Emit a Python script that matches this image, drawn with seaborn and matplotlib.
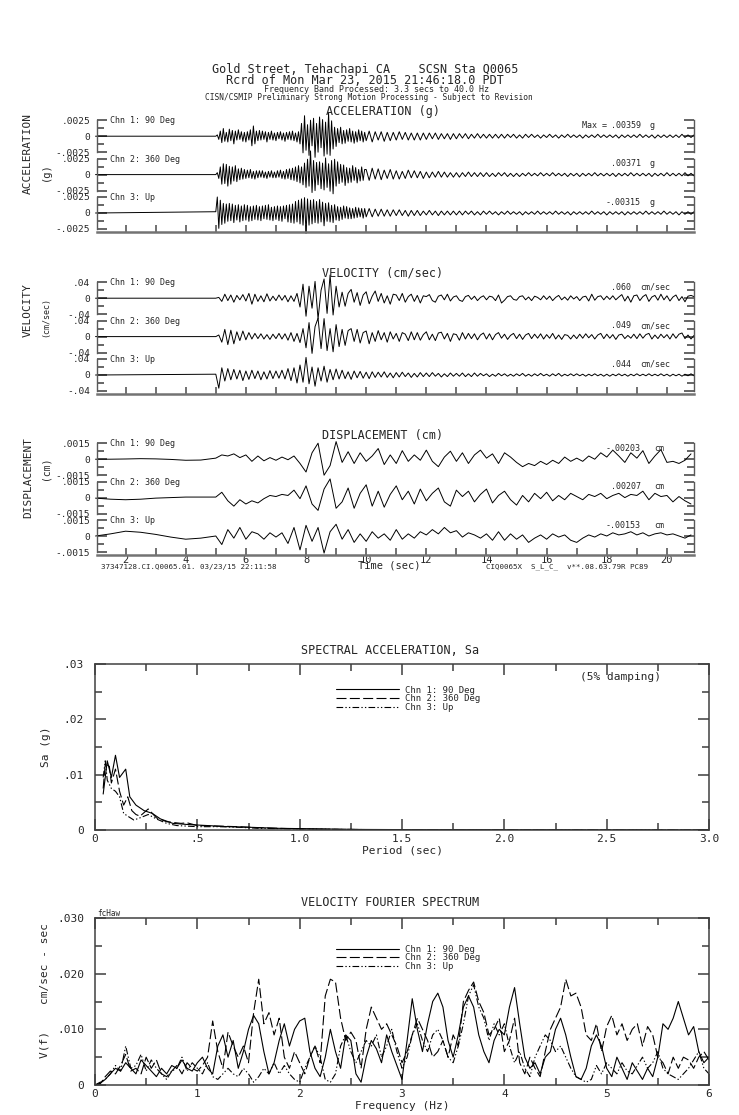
import numpy as np
import pandas as pd
import matplotlib
matplotlib.use("Agg")
import matplotlib.pyplot as plt
import seaborn as sns
from matplotlib.ticker import FixedLocator, MultipleLocator

W, H = 739, 1115

channels = ["Chn 1: 90 Deg", "Chn 2: 360 Deg", "Chn 3: Up"]

# ---------------- time histories ----------------
# acceleration in 1e-4 g: strong part every 0.05 s from 5.0 s, coda every 0.1 s from 10.0 s
acc_strong_ch1 = [
    0, 2, -5, 8, -10, 12, -8, 6, -9, 11,
    -7, 9, -12, 8, -6, 10, -5, 7, -8, 6,
    -9, 7, -6, 10, -15, 16, -12, 8, -7, 9,
    -6, 8, -5, 7, -9, 6, -5, 8, -6, 5,
    -7, 6, -4, 7, -6, 5, -8, 6, -5, 7,
    -6, 8, -7, 5, -9, 7, -12, 20, -26, 32,
    -22, 18, -30, 25, -15, 28, -33, 20, -25, 30,
    -18, 26, -31, 22, -28, 36, -30, 24, -20, 14,
    -16, 12, -10, 14, -12, 9, -11, 10, -8, 12,
    -9, 8, -11, 7, -9, 10, -7, 8, -9, 6,
]
acc_strong_ch2 = [
    0, 3, -6, 12, -15, 17, -14, 16, -18, 13,
    -15, 12, -10, 14, -11, 9, -8, 10, -7, 8,
    -6, 7, -5, 8, -6, 5, -7, 6, -5, 6,
    -4, 6, -5, 4, -6, 5, -4, 6, -5, 4,
    -5, 6, -4, 7, -6, 5, -7, 8, -6, 9,
    -8, 10, -9, 12, -11, 14, -13, 12, -16, 18,
    -20, 24, -18, 37, -28, 22, -25, 19, -16, 20,
    -22, 18, -24, 26, -20, 17, -26, 22, -30, 24,
    -18, 20, -14, 16, -12, 15, -17, 11, -13, 10,
    -12, 14, -9, 11, -13, 8, -10, 12, -9, 8,
]
acc_strong_ch3 = [
    2, 25, -24, 20, -18, 15, -16, 14, -13, 15,
    -12, 14, -15, 12, -11, 13, -14, 11, -12, 13,
    -11, 12, -13, 10, -12, 11, -10, 12, -11, 10,
    -12, 11, -9, 12, -10, 13, -11, 9, -12, 10,
    -10, 11, -12, 10, -13, 11, -9, 12, -14, 13,
    -15, 14, -16, 18, -14, 20, -17, 22, -19, 24,
    -32, 22, -19, 20, -17, 21, -15, 18, -16, 21,
    -14, 17, -20, 15, -13, 16, -14, 12, -15, 13,
    -11, 10, -12, 9, -10, 11, -8, 10, -9, 8,
    -9, 7, -8, 9, -7, 8, -6, 7, -8, 7,
]
acc_coda_ch1 = [
    -7, 8, -9, 7, -6, 7, -8, 6, -7, 6,
    -6, 7, -5, 6, -6, 5, -6, 5, -6, 5,
    -5, 5, -4, 5, -5, 4, -4, 4, -5, 4,
    -4, 4, -3, 4, -4, 3, -3, 4, -3, 3,
    -3, 3, -3, 3, -3, 3, -3, 3, -2, 3,
    -3, 2, -3, 3, -2, 3, -2, 2, -3, 2,
    -2, 3, -2, 2, -3, 2, -2, 3, -2, 2,
    -2, 2, -3, 2, -2, 2, -2, 3, -2, 2,
    -2, 2, -2, 2, -3, 2, -2, 2, -2, 2,
    -2, 3, -2, 2, -2, 2, -3, 2, -2, 2,
    -2, 2, -2, 2, -2, 3, -2, 2, -2, 2,
]
acc_coda_ch2 = [
    8, -9, 10, -7, 9, -8, 7, -6, 8, -7,
    6, -7, 5, -6, 7, -5, 6, -5, 5, -6,
    4, -5, 4, -4, 5, -4, 4, -4, 3, -4,
    3, -4, 3, -3, 4, -3, 3, -3, 3, -3,
    3, -3, 2, -3, 3, -2, 3, -3, 2, -3,
    2, -3, 2, -2, 3, -2, 2, -2, 3, -2,
    2, -2, 3, -2, 2, -2, 2, -3, 2, -2,
    2, -3, 2, -2, 2, -2, 3, -2, 2, -2,
    2, -2, 2, -3, 2, -2, 2, -2, 3, -2,
    2, -2, 2, -2, 2, -3, 2, -2, 2, -2,
    3, -2, 2, -2, 2, -2, 3, -2, 2, -2,
]
acc_coda_ch3 = [
    -6, 7, -6, 6, -5, 6, -5, 5, -5, 5,
    -4, 5, -4, 4, -5, 4, -4, 4, -4, 3,
    -3, 4, -3, 3, -4, 3, -3, 3, -3, 3,
    -3, 3, -3, 3, -2, 3, -3, 2, -3, 3,
    -2, 3, -2, 2, -3, 2, -2, 3, -2, 2,
    -2, 2, -3, 2, -2, 2, -2, 3, -2, 2,
    -2, 2, -2, 3, -2, 2, -2, 2, -3, 2,
    -2, 2, -2, 2, -2, 3, -2, 2, -2, 2,
    -3, 2, -2, 2, -2, 2, -3, 2, -2, 2,
    -2, 2, -2, 3, -2, 2, -2, 2, -2, 3,
    -2, 2, -2, 2, -3, 2, -2, 2, -2, 2,
]

# velocity in 1e-3 cm/sec, every 0.1 s from 5.0 s
vel_ch1 = [
    0, 2, -8, 10, -6, 8, -10, 7, -4, 9,
    -7, 12, -15, 10, -8, 6, -9, 11, -7, 5,
    -6, 8, -5, 7, -9, 6, -8, 12, -22, 35,
    -45, 30, -25, 42, -52, 20, 48, -38, 58, -42,
    30, -22, 15, -20, 12, 22, -10, 14, -18, 8,
    16, -14, 5, 18, -8, 12, -12, 6, -15, 10,
    8, -6, 12, -10, 4, 10, -8, 7, -12, 6,
    4, 9, -6, -10, 5, 8, -4, 10, -7, 3,
    6, -5, -8, 4, 7, -3, 5, -6, 2, 6,
    -4, 5, 3, -6, 8, -12, -5, 4, 6, -3,
    -5, 4, 6, -4, 3, -6, 5, 2, -4, 6,
    -3, 5, -6, 2, 7, -4, 3, -5, 6, -2,
    4, -6, 3, 5, -7, 10, -5, 4, 6, -4,
    5, -3, 6, -4, 3, 9, -7, 5, -10, 6,
    8, -6, 4, 9, -8, 3, 7, -5, 10, -4,
    6, -7, 3, 8, -6, 4, -9, 5, 7, 4,
]
vel_ch2 = [
    0, 4, -14, 18, -20, 16, -18, 12, -10, 14,
    -8, 10, -6, 8, -5, 7, -6, 5, -7, 6,
    -5, 8, -6, 7, -9, 10, -12, 8, -15, 20,
    -28, 35, -42, 25, 46, -30, 45, -35, 20, -38,
    30, -25, 18, -22, 15, 20, -12, 18, -16, 10,
    14, -18, 10, -12, 15, -8, 10, -14, 12, -6,
    8, -12, 10, 6, -10, 12, -8, 10, -9, 5,
    12, -8, 6, -10, 9, 11, -6, 8, -12, 7,
    5, -9, 10, -6, 8, -5, 7, -8, 4, 9,
    -6, 7, -8, 5, 10, -4, 6, -7, 3, 8,
    -5, 6, -7, 4, 8, -5, 6, -4, 7, -6,
    5, -4, 8, -6, 4, -7, 5, 3, -6, 4,
    -5, 6, -4, 7, -3, 5, -6, 4, 8, -5,
    6, -4, 5, -7, 4, 6, -5, 3, -4, 6,
    -5, 7, -4, 5, 8, -6, 4, -5, 6, -3,
    5, -6, 7, -4, 6, 9, -5, 4, -6, 3,
]
vel_ch3 = [
    2, -33, 18, -15, 16, -12, 14, -10, 12, -14,
    10, -11, 12, -9, 10, -12, 8, -10, 11, -9,
    10, -8, 12, -10, 16, -14, 18, -20, 25, -18,
    44, -22, 20, -28, 18, -15, 22, -18, 14, -12,
    15, -10, 12, -9, 8, -11, 10, -7, 9, -8,
    7, -9, 8, -6, 7, -5, 8, -6, 5, -7,
    6, -5, 7, -4, 5, -6, 4, -5, 6, -4,
    5, -4, 6, -3, 4, -5, 3, -4, 5, -3,
    4, -3, 5, -4, 3, -4, 5, -3, 4, -2,
    3, -4, 2, -3, 4, -2, 3, -3, 2, -3,
    3, -2, 4, -3, 2, -3, 3, -2, 4, -2,
    2, -3, 3, -2, 4, -3, 2, -2, 3, -2,
    3, -2, 2, -3, 2, -2, 3, -2, 2, -3,
    2, -3, 2, -2, 3, -2, 2, -3, 2, -2,
    3, -2, 2, -2, 3, -2, 2, -2, 3, -2,
    2, -3, 2, -2, 2, -3, 2, -2, 3, -2,
]

# displacement in 1e-5 cm: slow part every 0.5 s, then every 0.2 s from 5.2 s
dis_pre_t = [1.0, 1.5, 2.0, 2.5, 3.0, 3.5, 4.0, 4.5, 5.0]
dis_pre_ch1 = [0, 0, 2, 5, 3, -2, -10, -8, 10]
dis_pre_ch2 = [-5, -15, -20, -15, -5, 0, 5, 5, 5]
dis_pre_ch3 = [0, 20, 45, 35, 15, -10, -30, -20, 0]
dis_ch1 = [
    40, 30, 50, 15, 40, -20, 30, -15, 15, -10, 20, -5, 30, -40, -120,
    60, 150, -150, -60, 165, -30, 70, -40, 60, -20, 30, 100, -50, 40,
    -40, 80, -20, 40, -10, 85, -20, -70, 20, 75, -20, 60, -40, 40, 85,
    10, 50, -40, 60, 20, -30, -70, -40, -60, -20, -50, -10, -40, 20, -20,
    10, -20, 30, 0, 60, 20, 85, 30, -30, 60, 10, 80, -40, 30, 90, -30,
    -20, -40, -10, 50,
]
dis_ch2 = [
    50, -30, -80, -20, -60, -30, -50, -10, 20, 10, 30, 20, 70, -10, 110,
    -60, -120, 80, 175, -100, -40, 90, -100, 40, 120, -80, 60, -90, 30,
    110, -20, 60, -60, 80, -30, 40, 90, -40, -80, 70, 10, 60, -40, 30,
    80, -50, 20, 60, -20, -70, 20, -40, 40, -10, 50, -30, 20, -20, 40,
    10, -20, 30, 10, 40, -10, 20, 40, 0, 30, 20, 60, -20, 40, 10, 20,
    -40, 10, -30, -60,
]
dis_ch3 = [
    -80, 60, -20, 80, -30, 40, 20, -30, 30, -10, 30, -70, 80, -130, 100,
    -50, 80, -160, 40, 110, -30, 60, -60, 20, -50, 40, -20, 20, -40, 60,
    -30, 20, -20, 40, 10, 60, 20, 80, 30, 50, -10, 30, 10, -20, 20, -40,
    40, -40, 20, -30, 10, -60, -20, 10, -30, 20, -10, 10, -40, -60, -20,
    10, -10, 20, 0, 30, 10, 20, 40, 10, 30, 0, 20, 30, 10, 20, 0, -20, 10,
]

acc_max = [".00359", ".00371", "-.00315"]
vel_max = [".060", ".049", ".044"]
dis_max = ["-.00203", ".00207", "-.00153"]

# ---------------- spectral acceleration (g x 1e-3) ----------------
sa_period_ch1 = [0.04, 0.06, 0.08, 0.10, 0.12, 0.15, 0.17, 0.20, 0.24, 0.28, 0.32,
                 0.38, 0.45, 0.55, 0.65, 0.75, 0.9, 1.1, 1.3, 1.6, 2.0, 2.5, 3.0]
sa_ch1 = [6.5, 12.5, 9.5, 13.5, 9.5, 11.0, 6.0, 4.5, 3.5, 3.0, 2.0,
          1.2, 1.0, 0.8, 0.6, 0.5, 0.3, 0.2, 0.1, 0.06, 0.04, 0.02, 0.01]
sa_period_ch2 = [0.04, 0.05, 0.07, 0.08, 0.10, 0.12, 0.14, 0.16, 0.18, 0.20, 0.22,
                 0.26, 0.30, 0.35, 0.42, 0.45, 0.50, 0.60, 0.70, 0.80, 1.0, 1.2,
                 1.5, 2.0, 3.0]
sa_ch2 = [7.5, 12.0, 11.5, 8.5, 11.0, 7.0, 4.5, 6.0, 3.5, 2.8, 2.5,
          3.8, 2.2, 1.5, 1.2, 1.3, 0.8, 0.7, 0.6, 0.4, 0.2, 0.1,
          0.05, 0.03, 0.01]
sa_period_ch3 = [0.04, 0.05, 0.06, 0.08, 0.10, 0.12, 0.14, 0.16, 0.19, 0.22, 0.26,
                 0.30, 0.35, 0.40, 0.50, 0.60, 0.70, 0.80, 1.0, 1.2, 1.5, 2.0, 3.0]
sa_ch3 = [9.5, 12.5, 9.0, 7.5, 7.0, 6.0, 3.0, 2.5, 1.8, 2.2, 2.8,
          2.0, 1.2, 0.8, 0.6, 0.6, 0.5, 0.3, 0.2, 0.1, 0.05, 0.03, 0.01]

# ---------------- velocity Fourier spectrum (1e-3 cm/sec-sec, every 0.05 Hz) ----------------
fas_ch1 = [
    0, 0.3, 1.0, 2.0, 3.0, 2.5, 4.0, 3.0, 2.0, 4.5, 3.5, 2.5, 1.5, 3.0, 2.0, 3.5, 3.0, 4.5, 3.0, 2.5,
    4.0, 5.0, 3.0, 2.0, 7.0, 9.0, 5.0, 8.0, 3.0, 6.0, 10.0, 12.5, 11.0, 6.0, 2.0, 4.0, 8.0, 11.0, 7.0, 10.0,
    11.5, 12.0, 6.0, 3.0, 1.5, 5.0, 10.0, 6.0, 3.0, 9.0, 8.0, 2.0, 0.5, 5.0, 8.0, 6.5, 4.0, 9.0, 6.0, 3.5,
    1.0, 8.0, 15.5, 10.0, 6.0, 11.0, 15.0, 16.5, 14.0, 8.0, 5.0, 9.0, 14.0, 16.0, 14.0, 9.0, 6.0, 4.0, 8.0, 10.0,
    9.0, 14.0, 17.5, 11.0, 5.0, 3.0, 4.0, 2.0, 5.0, 6.0, 10.0, 12.0, 9.0, 5.0, 1.5, 1.0, 3.0, 7.0, 9.0, 7.0,
    3.0, 1.5, 5.0, 3.0, 1.0, 4.0, 2.5, 1.0, 3.0, 1.5, 5.0, 11.0, 10.0, 12.0, 15.0, 12.0, 9.0, 10.5, 6.0, 4.0,
    5.0,
]
fas_ch2 = [
    0, 0.2, 1.5, 2.5, 2.0, 3.5, 5.5, 2.5, 3.0, 2.0, 5.0, 3.0, 4.5, 2.0, 1.5, 2.5, 3.5, 2.0, 4.0, 3.0,
    2.5, 3.5, 5.0, 11.5, 6.0, 3.0, 9.5, 7.0, 5.0, 7.0, 4.0, 13.0, 19.0, 11.0, 13.0, 9.0, 12.0, 5.0, 3.0, 6.0,
    4.0, 2.0, 5.0, 7.0, 4.0, 16.0, 19.0, 18.5, 12.0, 8.0, 9.5, 8.0, 3.0, 10.0, 14.0, 12.0, 10.0, 11.0, 9.0, 7.0,
    4.0, 6.0, 9.0, 12.0, 10.0, 8.0, 5.0, 6.0, 8.0, 5.0, 9.0, 7.0, 15.0, 17.0, 18.5, 15.0, 13.0, 9.0, 10.0, 12.0,
    6.0, 8.0, 12.0, 4.0, 2.0, 5.0, 3.0, 1.5, 6.0, 10.0, 12.0, 14.0, 19.0, 16.0, 16.5, 14.0, 9.0, 8.0, 11.0, 6.0,
    10.5, 12.5, 9.0, 11.0, 8.0, 10.0, 11.0, 7.0, 10.5, 9.0, 5.0, 4.0, 2.0, 5.0, 3.0, 5.0, 4.5, 3.0, 5.0, 6.0,
    4.5,
]
fas_ch3 = [
    0, 0.5, 1.0, 2.0, 3.5, 2.5, 7.0, 3.0, 3.5, 5.5, 2.5, 4.5, 3.0, 2.0, 1.0, 2.5, 3.0, 5.0, 2.5, 4.0,
    3.0, 2.0, 4.0, 1.5, 1.0, 2.0, 3.0, 2.0, 1.5, 3.0, 2.0, 0.5, 1.5, 3.0, 2.0, 4.0, 2.0, 3.5, 2.0, 1.0,
    0.5, 3.0, 5.0, 7.0, 5.0, 1.0, 0.5, 2.0, 7.0, 9.0, 6.0, 4.0, 6.0, 8.0, 7.0, 9.0, 5.0, 7.0, 10.0, 6.0,
    3.0, 5.0, 9.0, 11.0, 8.0, 6.0, 9.0, 10.0, 8.0, 5.0, 4.0, 7.0, 11.0, 16.0, 18.0, 14.0, 12.0, 8.0, 11.0, 9.0,
    11.0, 7.0, 4.0, 6.0, 3.0, 1.5, 5.0, 7.0, 9.0, 8.0, 6.0, 7.0, 5.0, 3.0, 1.5, 1.0, 0.5, 1.0, 3.5, 2.0,
    4.0, 3.0, 2.0, 4.0, 2.5, 2.0, 3.5, 5.0, 3.0, 4.0, 6.0, 3.0, 2.0, 1.5, 1.0, 2.0, 3.0, 4.5, 6.0, 3.0,
    2.0,
]

# ---------------------------------------------------------------
sns.set_theme(style="ticks")
plt.rcParams["font.family"] = ["DejaVu Sans Mono", "DejaVu Sans"]
plt.rcParams["axes.linewidth"] = 1.0

fig = plt.figure(figsize=(W / 100, H / 100), dpi=100)
fig.patch.set_facecolor("white")


def px_axes(x0, y0, x1, y1):
    return fig.add_axes([x0 / W, 1 - y1 / H, (x1 - x0) / W, (y1 - y0) / H])


def short(v, nd):
    s = f"{v:.{nd}f}".replace("0.", ".")
    return "0" if float(v) == 0 else s


def frame(t, v, scale):
    return pd.DataFrame({"t": np.asarray(t, float), "v": np.asarray(v, float) * scale})


acc_frames = [
    frame(np.r_[1.0, 5.0 + 0.05 * np.arange(len(s)), 10.0 + 0.1 * np.arange(len(c))],
          np.r_[0, s, c], 1e-4)
    for s, c in ((acc_strong_ch1, acc_coda_ch1), (acc_strong_ch2, acc_coda_ch2),
                 (acc_strong_ch3, acc_coda_ch3))
]
vel_frames = [frame(np.r_[1.0, 5.0 + 0.1 * np.arange(len(a))], np.r_[0, a], 1e-3)
              for a in (vel_ch1, vel_ch2, vel_ch3)]
dis_frames = [frame(np.r_[dis_pre_t, 5.2 + 0.2 * np.arange(len(a))], np.r_[p, a], 1e-5)
              for p, a in ((dis_pre_ch1, dis_ch1), (dis_pre_ch2, dis_ch2), (dis_pre_ch3, dis_ch3))]

X0, X1 = 97, 694
CH_H = 38.4


def draw_block(top, frames, lim, tick, nd, maxes, val_end, unit, unit_x, last, max_word=False):
    for i, df in enumerate(frames):
        ax = px_axes(X0, top + CH_H * i, X1, top + CH_H * (i + 1))
        ax.patch.set_alpha(0)
        sns.lineplot(data=df, x="t", y="v", ax=ax, color="black", lw=0.7,
                     estimator=None, sort=False)
        ax.lines[-1].set_clip_on(False)
        ax.set_xlim(1.05, 20.9)
        ax.set_ylim(-lim, lim)
        ax.set_xlabel("")
        ax.set_ylabel("")
        ax.yaxis.set_major_locator(FixedLocator([-tick, 0, tick]))
        ax.set_yticklabels([short(-tick, nd), "0", short(tick, nd)])
        ax.yaxis.set_minor_locator(FixedLocator([-tick / 2, tick / 2]))
        ax.tick_params(axis="y", which="both", direction="in", left=True, right=True,
                       labelsize=6.8, color="0.35", width=1.3, pad=5)
        ax.tick_params(axis="y", which="major", length=7)
        ax.tick_params(axis="y", which="minor", length=5)
        for side in ("left", "right"):
            ax.spines[side].set_bounds(-tick, tick)
            ax.spines[side].set_color("0.35")
        ax.spines["top"].set_visible(False)
        ax.text((110 - X0) / (X1 - X0), 0.9, channels[i], transform=ax.transAxes,
                fontsize=6, va="center", ha="left")
        if max_word and i == 0:
            ax.text((582 - X0) / (X1 - X0), 0.78, "Max =", transform=ax.transAxes,
                    fontsize=6, va="center", ha="left")
        ax.text((val_end - X0) / (X1 - X0), 0.78, maxes[i], transform=ax.transAxes,
                fontsize=6, va="center", ha="right")
        ax.text((unit_x - X0) / (X1 - X0), 0.78, unit, transform=ax.transAxes,
                fontsize=6, va="center", ha="left")
        if i < 2:
            ax.spines["bottom"].set_visible(False)
            ax.tick_params(axis="x", which="both", bottom=False, labelbottom=False)
        else:
            ax.spines["bottom"].set_color("0.45")
            ax.spines["bottom"].set_linewidth(1.8)
            ax.xaxis.set_major_locator(FixedLocator(range(2, 21, 2)))
            ax.xaxis.set_minor_locator(FixedLocator(range(1, 22)))
            ax.tick_params(axis="x", which="both", direction="in", length=5,
                           color="0.35", width=1.2, labelsize=7.5, pad=0,
                           labelbottom=last)


draw_block(117, acc_frames, 0.003, 0.0025, 4, acc_max, 641, "g", 650, False, max_word=True)
draw_block(279, vel_frames, 0.048, 0.04, 2, vel_max, 631, "cm/sec", 640, False)
draw_block(440, dis_frames, 0.0018, 0.0015, 4, dis_max, 641, "cm", 654, True)

# header and block titles
fig.text(365 / W, 1 - 70 / H, "Gold Street, Tehachapi CA    SCSN Sta Q0065",
         ha="center", va="center", fontsize=8.5)
fig.text(365 / W, 1 - 80 / H, "Rcrd of Mon Mar 23, 2015 21:46:18.0 PDT",
         ha="center", va="center", fontsize=8.5)
fig.text(376 / W, 1 - 90 / H, "Frequency Band Processed: 3.3 secs to 40.0 Hz",
         ha="center", va="center", fontsize=6)
fig.text(369 / W, 1 - 98 / H,
         "CISN/CSMIP Preliminary Strong Motion Processing - Subject to Revision",
         ha="center", va="center", fontsize=5.7)
fig.text(383 / W, 1 - 112 / H, "ACCELERATION (g)", ha="center", va="center", fontsize=8.5)
fig.text(383 / W, 1 - 273 / H, "VELOCITY (cm/sec)", ha="center", va="center", fontsize=8.5)
fig.text(383 / W, 1 - 435 / H, "DISPLACEMENT (cm)", ha="center", va="center", fontsize=8.5)

for name, yc, unit, yu, usize in (("ACCELERATION", 154, "(g)", 172, 7.5),
                                  ("VELOCITY", 310, "(cm/sec)", 317, 6),
                                  ("DISPLACEMENT", 477, "(cm)", 468, 7)):
    fig.text(28 / W, 1 - yc / H, name, rotation=90, ha="center", va="center", fontsize=8)
    fig.text(46 / W, 1 - yu / H, unit, rotation=90, ha="center", va="center", fontsize=usize)

fig.text(389 / W, 1 - 566 / H, "Time (sec)", ha="center", va="center", fontsize=7.5)
fig.text(101 / W, 1 - 567 / H, "37347128.CI.Q0065.01. 03/23/15 22:11:58",
         ha="left", va="center", fontsize=5.4)
fig.text(486 / W, 1 - 567 / H, "CIQ0065X  S_L_C_  v**.08.63.79R PC89",
         ha="left", va="center", fontsize=5.4)

# ---------------- spectra ----------------
sa_df = pd.concat([
    pd.DataFrame({"period": p, "sa": np.asarray(v) * 1e-3, "channel": c})
    for p, v, c in ((sa_period_ch1, sa_ch1, channels[0]),
                    (sa_period_ch2, sa_ch2, channels[1]),
                    (sa_period_ch3, sa_ch3, channels[2]))
])
fas_df = pd.concat([
    pd.DataFrame({"freq": 0.05 * np.arange(len(v)), "amp": np.asarray(v) * 1e-3, "channel": c})
    for v, c in ((fas_ch1, channels[0]), (fas_ch2, channels[1]), (fas_ch3, channels[2]))
])

dash_styles = ["", (9, 3), (6, 2, 1.2, 2, 1.2, 2)]


def spectrum_axes(ax, xmax, xmajor, xminor, xfmt, ymajor_labels):
    ax.set_xlim(0, xmax)
    ax.set_ylim(0, 0.03)
    ax.xaxis.set_major_locator(MultipleLocator(xmajor))
    ax.xaxis.set_minor_locator(MultipleLocator(xminor))
    ax.set_xticklabels([xfmt(v) for v in ax.get_xticks()])
    ax.yaxis.set_major_locator(FixedLocator([0, 0.01, 0.02, 0.03]))
    ax.set_yticklabels(ymajor_labels)
    ax.yaxis.set_minor_locator(MultipleLocator(0.005))
    ax.tick_params(which="both", direction="in", top=True, right=True,
                   color="0.3", width=1.2, labelsize=8, pad=3)
    ax.tick_params(axis="y", pad=8)
    ax.tick_params(which="major", length=8)
    ax.tick_params(which="minor", length=5)
    for s in ax.spines.values():
        s.set_color("0.25")
        s.set_linewidth(1.1)
    return ax.get_legend_handles_labels()


ax_sa = px_axes(95, 664, 709, 830)
sns.lineplot(data=sa_df, x="period", y="sa", style="channel", dashes=dash_styles,
             color="black", lw=0.8, estimator=None, sort=False, ax=ax_sa)
h, l = spectrum_axes(ax_sa, 3.0, 0.5, 0.25,
                     lambda v: "0" if v == 0 else (".5" if abs(v - 0.5) < 1e-9 else f"{v:.1f}"),
                     ["0", ".01", ".02", ".03"])
ax_sa.legend(h, l, loc="upper left", bbox_to_anchor=(0.392, 0.87), frameon=False,
             fontsize=6.5, handlelength=7.0, labelspacing=-0.05, handletextpad=0.7,
             borderpad=0, borderaxespad=0)
ax_sa.set_xlabel("Period (sec)", fontsize=8, labelpad=1)
ax_sa.set_ylabel("Sa (g)", fontsize=8, labelpad=9)
ax_sa.text(0.79, 0.92, "(5% damping)", transform=ax_sa.transAxes, fontsize=8,
           ha="left", va="center")
fig.text(390 / W, 1 - 651 / H, "SPECTRAL ACCELERATION, Sa", ha="center", va="center",
         fontsize=8.5)

ax_fs = px_axes(95, 918, 709, 1085)
sns.lineplot(data=fas_df, x="freq", y="amp", style="channel", dashes=dash_styles,
             color="black", lw=0.8, estimator=None, sort=False, ax=ax_fs)
h, l = spectrum_axes(ax_fs, 6.0, 1.0, 0.5, lambda v: f"{v:.0f}",
                     ["0", ".010", ".020", ".030"])
ax_fs.legend(h, l, loc="upper left", bbox_to_anchor=(0.392, 0.84), frameon=False,
             fontsize=6.5, handlelength=7.0, labelspacing=-0.05, handletextpad=0.7,
             borderpad=0, borderaxespad=0)
ax_fs.set_xlabel("Frequency (Hz)", fontsize=8, labelpad=1)
ax_fs.set_ylabel("")
fig.text(45 / W, 1 - 990 / H, "V(f)    cm/sec - sec", rotation=90, ha="center",
         va="center", fontsize=8)
fig.text(97 / W, 1 - 913 / H, "fcHaw", ha="left", va="center", fontsize=5.5)
fig.text(390 / W, 1 - 903 / H, "VELOCITY FOURIER SPECTRUM", ha="center", va="center",
         fontsize=8.5)

fig.savefig("out.png", dpi=100, facecolor="white")
